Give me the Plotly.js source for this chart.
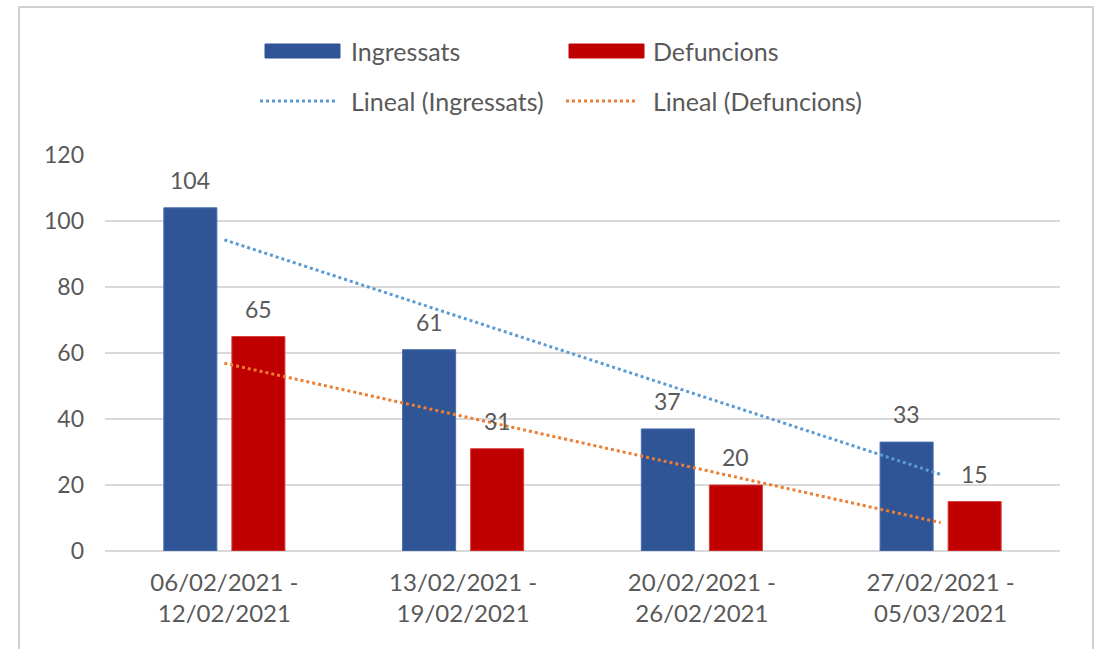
<!DOCTYPE html>
<html>
<head>
<meta charset="utf-8">
<script src="https://cdn.plot.ly/plotly-3.0.1.min.js"></script>
<style>
  html, body { margin: 0; padding: 0; background: #ffffff; }
  #chart { width: 1099px; height: 649px; }
</style>
</head>
<body>
<div id="chart"></div>
<script>
// ---- data ----
const categories = [
  "06/02/2021 -<br>12/02/2021",
  "13/02/2021 -<br>19/02/2021",
  "20/02/2021 -<br>26/02/2021",
  "27/02/2021 -<br>05/03/2021"
];
const ingressats = [104, 61, 37, 33];
const defuncions = [65, 31, 20, 15];
const seriesNames = ["Ingressats", "Defuncions"];
const trendNames = ["Lineal (Ingressats)", "Lineal (Defuncions)"];
const yTicks = [0, 20, 40, 60, 80, 100, 120];

// Linear (least squares) trendline over category positions 1..n, as Excel's "Lineal"
function linearTrend(vals) {
  const n = vals.length;
  const xs = vals.map((_, i) => i + 1);
  const mx = xs.reduce((a, b) => a + b, 0) / n;
  const my = vals.reduce((a, b) => a + b, 0) / n;
  let num = 0, den = 0;
  for (let i = 0; i < n; i++) { num += (xs[i] - mx) * (vals[i] - my); den += (xs[i] - mx) ** 2; }
  const slope = num / den, icpt = my - slope * mx;
  return xs.map(x => icpt + slope * x);
}

// ---- style ----
const FONT = "Lato, 'Open Sans', sans-serif";
const TXT = "#595959";
const BLUE = "#2f5597", RED = "#c00000";
const TBLUE = "#5b9bd5", TORANGE = "#ed7d31";
const W = 1099, H = 649;
const M = { l: 105, r: 39, t: 155, b: 98 };
const PW = W - M.l - M.r, PH = H - M.t - M.b;
const px = x => (x - M.l) / PW;          // page pixel -> paper x
const py = y => (H - M.b - y) / PH;      // page pixel -> paper y

const traces = [
  { type: "bar", name: seriesNames[0], x: categories, y: ingressats,
    marker: { color: BLUE, line: { color: "#4a6fb0", width: 1 } }, showlegend: false, hoverinfo: "x+y" },
  { type: "bar", name: seriesNames[1], x: categories, y: defuncions,
    marker: { color: RED, line: { color: "#d94040", width: 1 } }, showlegend: false, hoverinfo: "x+y" },
  { type: "scatter", mode: "lines", name: trendNames[0], x: categories, y: linearTrend(ingressats),
    line: { color: TBLUE, width: 3, dash: "dot" }, showlegend: false },
  { type: "scatter", mode: "lines", name: trendNames[1], x: categories, y: linearTrend(defuncions),
    line: { color: TORANGE, width: 3, dash: "dot" }, showlegend: false }
];

// data labels
const annotations = [];
[ingressats, defuncions].forEach((vals, s) => {
  vals.forEach((v, i) => {
    annotations.push({
      x: categories[i], y: v, xref: "x", yref: "y", text: String(v),
      showarrow: false, xshift: s === 0 ? -34 : 34, yshift: 28, yanchor: "middle",
      font: { family: FONT, size: 23, color: TXT }
    });
  });
});

// custom legend (Excel style wide swatches)
const legendRows = [
  { y: 51, items: [
    { kind: "bar", color: BLUE, x0: 265, x1: 340, tx: 349, text: seriesNames[0] },
    { kind: "bar", color: RED, x0: 569, x1: 644, tx: 651, text: seriesNames[1] } ] },
  { y: 101, items: [
    { kind: "line", color: TBLUE, x0: 260, x1: 336, tx: 349, text: trendNames[0] },
    { kind: "line", color: TORANGE, x0: 566, x1: 638, tx: 651, text: trendNames[1] } ] }
];
const shapes = [];
legendRows.forEach(row => {
  row.items.forEach(it => {
    if (it.kind === "bar") {
      shapes.push({ type: "rect", xref: "paper", yref: "paper",
        x0: px(it.x0), x1: px(it.x1), y0: py(row.y - 7), y1: py(row.y + 7),
        fillcolor: it.color, line: { color: it.color, width: 1 } });
    } else {
      shapes.push({ type: "line", xref: "paper", yref: "paper",
        x0: px(it.x0), x1: px(it.x1), y0: py(row.y), y1: py(row.y),
        line: { color: it.color, width: 3, dash: "dot" } });
    }
    annotations.push({ xref: "paper", yref: "paper", x: px(it.tx), y: py(row.y),
      xanchor: "left", yanchor: "middle", showarrow: false, text: it.text,
      font: { family: FONT, size: 25, color: TXT } });
  });
});
// outer chart border
shapes.push({ type: "rect", xref: "paper", yref: "paper", layer: "above",
  x0: px(19), x1: px(1093), y0: py(680), y1: py(7),
  line: { color: "#d0d0d0", width: 2 }, fillcolor: "rgba(0,0,0,0)" });

const layout = {
  width: W, height: H,
  margin: M,
  paper_bgcolor: "#ffffff", plot_bgcolor: "#ffffff",
  font: { family: FONT, size: 23, color: TXT },
  barmode: "group", bargap: 0.43, bargroupgap: 0.22,
  showlegend: false,
  xaxis: { type: "category", showgrid: false, zeroline: false, showline: false,
    ticks: "", ticklabelstandoff: 15, tickfont: { family: FONT, size: 24, color: TXT } },
  yaxis: { range: [0, 120], tickvals: yTicks, showgrid: true, gridcolor: "#d9d9d9", gridwidth: 2,
    zeroline: true, zerolinecolor: "#d9d9d9", zerolinewidth: 2, showline: false, ticks: "",
    ticklabelstandoff: 20, tickfont: { family: FONT, size: 23, color: TXT } },
  shapes: shapes,
  annotations: annotations
};

Plotly.newPlot("chart", traces, layout, { displayModeBar: false, responsive: false });
</script>
</body>
</html>
